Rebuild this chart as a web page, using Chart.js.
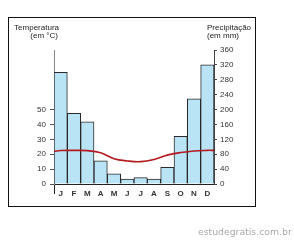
<!DOCTYPE html>
<html>
<head>
<meta charset="utf-8">
<script src="https://cdn.jsdelivr.net/npm/chart.js@4"></script>
<style>
  html, body { margin: 0; padding: 0; background: #fff; overflow: hidden; }
  #wrap { position: relative; width: 294px; height: 241px; }
  #frame { position: absolute; left: 8px; top: 17px; width: 246px; height: 188px; border: 1px solid #111; }
  canvas { position: absolute; left: 0; top: 0; }
  #mark { position: absolute; left: 198px; top: 226px; font: 9.3px "DejaVu Sans"; color: #aaa; white-space: nowrap; }
</style>
</head>
<body>
<div id="wrap">
  <div id="frame"></div>
  <canvas id="myChart" width="294" height="241"></canvas>
  <div id="mark">estudegratis.com.br</div>
</div>
<script>
const months = ['J', 'F', 'M', 'A', 'M', 'J', 'J', 'A', 'S', 'O', 'N', 'D'];
const precipitacao = [300, 190, 167, 62, 27, 13, 17, 13, 45, 128, 229, 320];
const temperatura = [22.5, 22.6, 22.4, 21, 17, 15.5, 15, 16.5, 19.4, 21.1, 22.2, 22.6];
const tempBordas = [22, 22.6]; // valor da curva nos eixos esquerdo e direito
const tempMaxLabel = 50;

// curva de temperatura no eixo linear (0..12), centro de cada mes em i + 0.5
const linha = [{ x: 0, y: tempBordas[0] }]
  .concat(temperatura.map((t, i) => ({ x: i + 0.5, y: t })))
  .concat([{ x: 12, y: tempBordas[1] }]);

const titulos = {
  id: 'titulos',
  afterDraw(chart) {
    const ctx = chart.ctx;
    ctx.save();
    ctx.fillStyle = '#222';
    ctx.font = '8px "Liberation Sans"';
    ctx.textAlign = 'right';
    ctx.fillText('Temperatura', 59, 30);
    ctx.fillText('(em °C)', 58, 38);
    ctx.textAlign = 'left';
    ctx.fillText('Precipitação', 207, 30);
    ctx.fillText('(em mm)', 207, 38);
    ctx.restore();
  },
};

const ctx = document.getElementById('myChart');
new Chart(ctx, {
  data: {
    labels: months,
    datasets: [
      {
        type: 'line',
        data: linha,
        xAxisID: 'xl',
        yAxisID: 'y',
        borderColor: '#b3191e',
        borderWidth: 1.6,
        pointRadius: 0,
        tension: 0.4,
        fill: false,
        order: 0,
      },
      {
        type: 'bar',
        data: precipitacao,
        xAxisID: 'x',
        yAxisID: 'y1',
        backgroundColor: '#b9e4f5',
        borderColor: '#2a2a2a',
        borderWidth: 1,
        grouped: false,
        order: 1,
      },
    ],
  },
  options: {
    responsive: false,
    animation: false,
    layout: { padding: { top: 50, left: 0, right: 0, bottom: 0 } },
    datasets: { bar: { barPercentage: 1, categoryPercentage: 1 } },
    plugins: {
      legend: { display: false },
      tooltip: { enabled: false },
    },
    scales: {
      x: {
        type: 'category',
        offset: true,
        grid: {
          offset: true,
          drawOnChartArea: false,
          tickLength: 10,
          color: (c) => (c.index === 0 || c.index === 12 ? '#222' : 'rgba(0,0,0,0)'),
        },
        border: { color: '#222', width: 1 },
        ticks: {
          color: '#333',
          font: { size: 8, weight: 'bold', family: 'Liberation Sans' },
          padding: -5,
          maxRotation: 0,
          autoSkip: false,
        },
        afterFit(s) { s.height = 57; },
      },
      xl: { type: 'linear', min: 0, max: 12, display: false },
      y: {
        position: 'left',
        min: 0,
        max: 90,
        ticks: {
          stepSize: 10,
          callback: (v) => (v <= tempMaxLabel ? v : null),
          color: '#333',
          font: { size: 8, family: 'Liberation Sans' },
          padding: 4,
        },
        grid: { drawOnChartArea: false, tickLength: 4, color: '#555' },
        border: { color: '#888' },
        afterFit(s) { s.width = 54; },
      },
      y1: {
        position: 'right',
        min: 0,
        max: 360,
        ticks: {
          stepSize: 40,
          color: '#333',
          font: { size: 8, family: 'Liberation Sans' },
          padding: 3,
        },
        grid: { drawOnChartArea: false, tickLength: 3, color: '#444' },
        border: { color: '#444' },
        afterFit(s) { s.width = 80; },
      },
    },
  },
  plugins: [titulos],
});
</script>
</body>
</html>
